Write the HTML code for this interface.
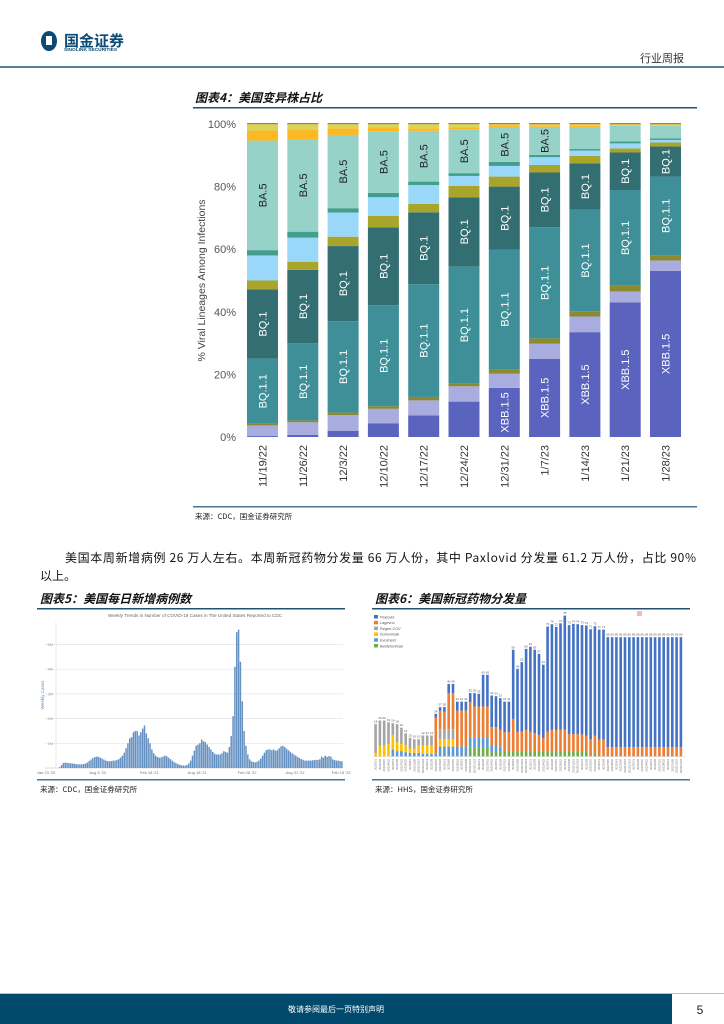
<!DOCTYPE html>
<html><head><meta charset="utf-8">
<style>
body{margin:0;background:#fff;}
#page{position:relative;width:724px;height:1024px;overflow:hidden;font-family:"Liberation Sans","Noto Sans CJK SC",sans-serif;}
</style></head>
<body>
<div id="page">
<svg id="svg" width="724" height="1024" style="position:absolute;left:0;top:0">
  <g>
    <ellipse cx="49" cy="41" rx="8" ry="10" fill="#0b4a74"/>
    <rect x="46" y="36" width="6" height="9" fill="#fff"/>
    <text x="64" y="46" font-size="15" font-weight="bold" fill="#0b4a74" font-family="Noto Sans CJK SC,sans-serif">国金证券</text>
    <text x="64" y="51" font-size="4.8" font-weight="bold" fill="#0b4a74">SINOLINK SECURITIES</text>
  </g>
  <text x="640" y="62" font-size="11" fill="#333" font-family="Noto Sans CJK SC,sans-serif">行业周报</text>
  <rect x="0" y="66" width="724" height="2" fill="#5b7f97"/>

  <text x="195" y="102" font-size="12" font-weight="bold" font-style="italic" fill="#111" font-family="Noto Sans CJK SC,sans-serif">图表4：美国变异株占比</text>
  <rect x="193" y="107" width="504" height="1.5" fill="#24506f"/>
  <g id="mainchart"></g>
  <rect x="193" y="506" width="504" height="1.5" fill="#4a7593"/>
  <text x="195" y="519" font-size="7.5" fill="#222" font-family="Noto Sans CJK SC,sans-serif">来源：CDC，国金证券研究所</text>

  <text x="65" y="562" font-size="12" fill="#111" font-family="Noto Sans CJK SC,sans-serif" textLength="631">美国本周新增病例 26 万人左右。本周新冠药物分发量 66 万人份，其中 Paxlovid 分发量 61.2 万人份，占比 90%</text>
  <text x="40" y="580" font-size="12" fill="#111" font-family="Noto Sans CJK SC,sans-serif">以上。</text>

  <text x="40" y="603" font-size="12" font-weight="bold" font-style="italic" fill="#111" font-family="Noto Sans CJK SC,sans-serif">图表5：美国每日新增病例数</text>
  <rect x="37" y="608" width="308" height="1.5" fill="#24506f"/>
  <g id="casechart"></g>
  <rect x="37" y="779" width="308" height="1.5" fill="#4a7593"/>
  <text x="40" y="792" font-size="7.5" fill="#222" font-family="Noto Sans CJK SC,sans-serif">来源：CDC，国金证券研究所</text>

  <text x="375" y="603" font-size="12" font-weight="bold" font-style="italic" fill="#111" font-family="Noto Sans CJK SC,sans-serif">图表6：美国新冠药物分发量</text>
  <rect x="372" y="608" width="318" height="1.5" fill="#24506f"/>
  <g id="drugchart"></g>
  <rect x="372" y="779" width="318" height="1.5" fill="#4a7593"/>
  <text x="375" y="792" font-size="7.5" fill="#222" font-family="Noto Sans CJK SC,sans-serif">来源：HHS，国金证券研究所</text>

  <rect x="0" y="994" width="672" height="30" fill="#014a6e"/>
  <rect x="0" y="993" width="724" height="1" fill="#a9c4d4"/>
  <text x="336" y="1012" font-size="8" fill="#fff" text-anchor="middle" font-family="Noto Sans CJK SC,sans-serif">敬请参阅最后一页特别声明</text>
  <text x="700" y="1014" font-size="12" fill="#222" text-anchor="middle">5</text>
</svg>
</div>
<script>
const NS='http://www.w3.org/2000/svg';
function mk(tag,attrs,parent){const e=document.createElementNS(NS,tag);for(const k in attrs)e.setAttribute(k,attrs[k]);parent.appendChild(e);return e;}

const weeks=['11/19/22','11/26/22','12/3/22','12/10/22','12/17/22','12/24/22','12/31/22','1/7/23','1/14/23','1/21/23','1/28/23'];
const layerNames=['XBB.1.5','XBB','BQ.1.1-sub','BQ.1.1','BQ.1','BF.7','BA.5.2.6','BA.4.6','BA.5','BN.1','Other'];
const xbb15=[0.3,0.7,2.0,4.4,6.9,11.3,15.7,25,33.5,43,53.1];
const xbb=[3.4,4.0,5.0,4.6,4.8,4.9,4.5,4.8,5.0,3.5,3.3];
const bq11b=[0.5,0.6,0.8,0.8,1.1,0.8,1.5,1.7,1.7,1.8,1.7];
const bq11=[20.8,24.7,29.2,32.3,36,37.5,38.1,35.5,32.4,30.6,25.1];
const bq1=[22.2,23.4,24,24.9,23,22.1,20.2,17.5,14.8,12,9.6];
const bf7=[2.8,2.6,3,3.6,2.7,3.6,3.2,2.4,2.4,1.3,1.3];
const ba526=[8.0,7.7,7.7,6,6,3.2,3.4,2.5,1.7,1.6,0.8];
const ba46=[1.7,1.9,1.4,1.4,1.1,0.9,1.3,0.7,0.5,0.6,0.5];
const ba5=[35,29.6,23.4,19.7,16.2,14,11,9,6.9,5,4.1];
const bn1=[3.2,3.1,2.1,1.2,0.8,0.6,0.6,0.4,0.5,0.2,0.1];
const other=[2.1,1.7,1.4,1.1,1.4,1.1,0.5,0.5,0.6,0.4,0.4];
const yTicks=['0%','20%','40%','60%','80%','100%'];
(function(){
  const g=document.getElementById('mainchart');
  const y0=437,y1=124,x0=247,pitch=40.3,bw=31;
  const Y=v=>y0-(v/100)*(y0-y1);
  const X=i=>x0+i*pitch;
  const series=[xbb15,xbb,bq11b,bq11,bq1,bf7,ba526,ba46,ba5,bn1,other];
  const cols=['#5a64bf','#a9acde','#8c8a2c','#3f8f99','#336e73','#a9a52b','#9ad8f9','#449e8e','#97d2c9','#fbb924','#d7d65a'];
  const labels={0:'XBB.1.5',3:'BQ.1.1',4:'BQ.1',8:'BA.5'};
  const thr={0:14,3:8,4:8,8:8};
  yTicks.forEach((t,k)=>{const v=k*20;const tx=mk('text',{x:236,y:Y(v)+4,'font-size':11,fill:'#555','text-anchor':'end'},g);tx.textContent=t;
    
    });
  const yt=mk('text',{x:0,y:0,'font-size':10.5,fill:'#444','text-anchor':'middle',transform:`translate(205,${(y0+y1)/2}) rotate(-90)`},g);
  yt.textContent='% Viral Lineages Among Infections';
  
  
  weeks.forEach((w,i)=>{
    let acc=0;
    series.forEach((s,j)=>{
      const v=s[i];const r=mk('rect',{x:X(i),y:Y(acc+v),width:bw,height:Math.max(0,Y(acc)-Y(acc+v)),fill:cols[j]},g);
      
      
      if(labels[j]&&v>=thr[j]){
        const cy=(Y(acc)+Y(acc+v))/2;
        const t=mk('text',{x:0,y:0,'font-size':11,fill:j==8?'#222':'#fff','text-anchor':'middle',transform:`translate(${X(i)+bw/2+4},${cy}) rotate(-90)`},g);
        t.textContent=labels[j];
        
        
      }
      acc+=v;
    });
    const tr=mk('rect',{x:X(i),y:Y(100)-1,width:bw,height:1.2,fill:'#e0663a'},g);
    
    
    const xl=mk('text',{x:0,y:0,'font-size':11,fill:'#333','text-anchor':'end',transform:`translate(${X(i)+bw/2+4},445) rotate(-90)`},g);
    xl.textContent=w;
    
    
  });
})();

const weeklyCases=[0,0,0,0,0,0,0,
0.03,0.12,0.2,0.22,0.21,0.2,
0.19,0.18,0.17,0.16,0.15,0.15,0.15,0.16,
0.18,0.22,0.28,0.34,0.4,0.44,0.46,0.45,0.42,0.38,
0.34,0.3,0.28,0.27,0.28,0.3,0.3,0.32,0.36,0.42,
0.5,0.62,0.8,1.0,1.2,1.25,1.45,1.5,1.5,1.32,
1.45,1.6,1.72,1.4,1.2,1.0,0.75,0.6,0.5,0.45,
0.42,0.43,0.46,0.5,0.48,0.42,0.36,0.3,0.25,0.2,
0.16,0.13,0.11,0.1,0.1,0.12,0.18,0.3,0.5,0.7,
0.9,0.95,1.0,1.15,1.08,1.05,0.95,0.85,0.75,0.65,
0.58,0.55,0.55,0.55,0.6,0.68,0.65,0.62,0.85,1.3,
2.1,4.1,5.5,5.6,4.3,2.7,1.5,0.9,0.55,0.35,
0.27,0.24,0.23,0.25,0.3,0.38,0.5,0.62,0.72,0.75,
0.75,0.72,0.75,0.7,0.72,0.8,0.88,0.9,0.85,0.78,
0.72,0.66,0.6,0.55,0.5,0.45,0.4,0.36,0.33,0.3,
0.3,0.3,0.3,0.31,0.32,0.33,0.33,0.35,0.46,0.42,
0.5,0.45,0.48,0.46,0.35,0.32,0.3,0.3,0.28,0.27];
const caseTicks=['','1M','2M','3M','4M','5M'];
const caseXLabels=['Jan 23 \'20','Aug 5 \'20','Feb 18 \'21','Aug 18 \'21','Feb 28 \'22','Aug 31 \'22','Feb 15 \'23'];
const caseXLabelWeeks=[0,28,56,82,109,135,160];
(function(){
  const g=document.getElementById('casechart');
  const base=768,unit=24.7,x0=46,x1=343;
  const n=weeklyCases.length,step=(x1-x0)/n;
  const Y=v=>base-v*unit;const X=i=>x0+i*step;
  const ti=mk('text',{x:195,y:617,'font-size':4.6,fill:'#666','text-anchor':'middle'},g);
  ti.textContent='Weekly Trends in Number of COVID-19 Cases in The United States Reported to CDC';
  
  
  caseTicks.forEach((t,k)=>{if(k>0){const l=mk('line',{x1:45,x2:343,y1:Y(k),y2:Y(k),stroke:'#e4e4e4','stroke-width':0.7},g);
    
    
    const tx=mk('text',{x:53,y:Y(k)+1.5,'font-size':4,fill:'#8aa','text-anchor':'end'},g);tx.textContent=t;
    
    }});
  const ax=mk('line',{x1:45,x2:343,y1:base,y2:base,stroke:'#bbb','stroke-width':0.6},g);
  
  
  const ya=mk('line',{x1:56,x2:56,y1:622,y2:base,stroke:'#ddd','stroke-width':0.6},g);
  
  
  const yt=mk('text',{x:0,y:0,'font-size':4.5,fill:'#6b8fc0','text-anchor':'middle',transform:'translate(44,695) rotate(-90)'},g);
  yt.textContent='Weekly Cases';
  
  
  weeklyCases.forEach((v,i)=>{const r=mk('rect',{x:X(i),y:Y(v),width:step*0.8,height:v*unit,fill:'#6490c2'},g);
    
    });
  caseXLabels.forEach((t,k)=>{const tx=mk('text',{x:X(caseXLabelWeeks[k]),y:774,'font-size':4,fill:'#777','text-anchor':'middle'},g);tx.textContent=t;
    
    });
})();

const drugNames=['Paxlovid','Lagevrio','Regen-COV','Sotrovimab','Evusheld','Bebtelovimab'];
const pax=[0,0,0,0,0,0,0,0,0,0,0,0,0,0,2,2,2.5,5,5,5,5,5,5,7.4,7,17.6,17.6,17.6,17.2,17.6,17,17,38.4,35,38.7,45,47.1,46.3,45,40.8,58.3,58.7,57.2,59.2,63.5,60.6,61.3,61.1,60.8,61.3,61.1,60.9,61.2,61.2,61.1,61.1,61.1,61.1,61.1,61.1,61.1,61.1,61.1,61.1,61.1,61.1,61.1,61.1,61.1,61.1,61.1,61.1];
const lag=[0,0,0,0,0,0,0,0,0,0,0,0,0,0,20.2,10.2,10,20.2,20.2,20,20,20,19.7,17.3,17.3,17.3,17.3,10.2,10.2,10,10.7,10.7,18.1,10.9,10.9,12,10.8,10,9,7.2,10.9,11.8,11.8,11.8,11.8,9.4,9.4,9.4,9.2,8.5,9.6,9.5,9.3,9.3,5.2,5.2,5.2,5.2,5.2,5.2,5.2,5.2,5.2,5.2,5.2,5.2,5.2,5.2,5.2,5.2,5.2,5.2];
const regen=[16,14,14,12,6.5,10,9,6.5,6,5.2,3.6,5.7,5.7,5.7,0,5.6,5.5,5.6,5.6,0,0,0,0,0,0,0,0,0,0,0,0,0,0,0,0,0,0,0,0,0,0,0,0,0,0,0,0,0,0,0,0,0,0,0,0,0,0,0,0,0,0,0,0,0,0,0,0,0,0,0,0,0];
const sotro=[2,6,6,7,8,5,4,4,2.4,2.4,4,4.5,4.5,4.5,0,4.1,4,4,4,0,0,0,0,0,0,0,0,0,0,0,0,0,0,0,0,0,0,0,0,0,0,0,0,0,0,0,0,0,0,0,0,0,0,0,0,0,0,0,0,0,0,0,0,0,0,0,0,0,0,0,0,0];
const evus=[0,0,0,0,4,3,3,2.4,2,2,2,1.5,1.5,1.5,1.5,5.5,5.5,5.5,5.5,5.5,5.5,5.5,5.3,5.3,5.3,5.3,5.3,3.3,3.3,2,0,0,0,0,0,0,0,0,0,0,0,0,0,0,0,0,0,0,0,0,0,0,0,0,0,0,0,0,0,0,0,0,0,0,0,0,0,0,0,0,0,0];
const bebt=[0,0,0,0,0,0,0,0,0,0,0,0,0,0,0,0,0,0,0,0,0,0,5.2,5.2,5.2,5.2,5.2,2.8,2.8,2.8,2.8,2.8,2.8,2.8,2.8,2.8,3.1,3,3,3,3,3,3,3,3,3,3,3,3,3,0,2,0,0,0,0,0,0,0,0,0,0,0,0,0,0,0,0,0,0,0,0];
(function(){
  const g=document.getElementById('drugchart');
  const base=756.5,unit=1.8,x0=374.3,pitch=4.3,bw=2.6;
  const Y=v=>base-v*unit;const X=i=>x0+i*pitch;
  const stacks=[bebt,evus,sotro,regen,lag,pax];
  const cols=['#6fad47','#5b9bd5','#ffc000','#a5a5a5','#ed7d31','#4472c4'];
  const legOrder=[5,4,3,2,1,0];
  legOrder.forEach((si,k)=>{const yy=615+k*5.8;
    const r=mk('rect',{x:374,y:yy,width:4,height:3.5,fill:cols[si]},g);
    
    
    const t=mk('text',{x:380,y:yy+3.3,'font-size':3.8,fill:'#555'},g);t.textContent=drugNames[5-si];
    
    });
  const pk=mk('rect',{x:637,y:611,width:5,height:5,fill:'#f4b9bd'},g);
  
  
  pax.forEach((_,i)=>{
    let acc=0;
    stacks.forEach((s,j)=>{const v=s[i];if(v>0){const r=mk('rect',{x:X(i),y:Y(acc+v),width:bw,height:v*unit,fill:cols[j]},g);
      
      }acc+=v;});
    const lt=mk('text',{x:X(i)+bw/2,y:Y(acc)-1.5,'font-size':3,fill:'#555','text-anchor':'middle'},g);lt.textContent=Math.round(acc);
    
    
    const xl=mk('text',{x:0,y:0,'font-size':2.8,fill:'#666','text-anchor':'end',transform:`translate(${X(i)+bw/2+1},759) rotate(-90)`},g);xl.textContent='2022/'+((i%12)+1)+'/'+((i*7)%28+1);
    
    
  });
  const ax=mk('line',{x1:373,x2:685,y1:base,y2:base,stroke:'#ccc','stroke-width':0.5},g);
  
  
})();
</script>
</body></html>
